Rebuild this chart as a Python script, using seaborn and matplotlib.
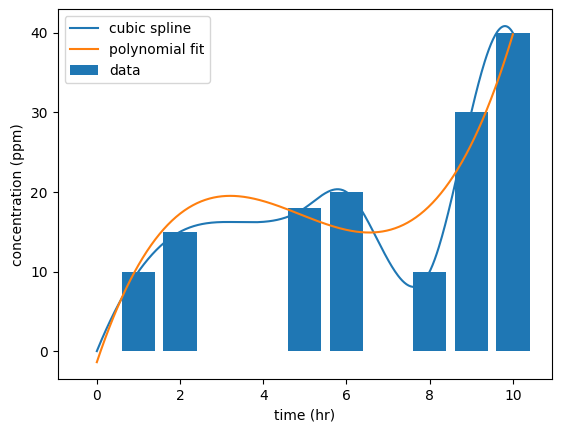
import numpy as np
import pandas as pd
import matplotlib
matplotlib.use("Agg")
import matplotlib.pyplot as plt
import seaborn as sns

time_hr = [0, 1, 2, 5, 6, 8, 9, 10]
conc_ppm = [0, 10, 15, 18, 20, 10, 30, 40]
poly_degree = 3


def not_a_knot_spline(x, y, xs):
    x = np.asarray(x, float)
    y = np.asarray(y, float)
    n = len(x)
    h = np.diff(x)
    A = np.zeros((n, n))
    b = np.zeros(n)
    for i in range(1, n - 1):
        A[i, i - 1] = h[i - 1]
        A[i, i] = 2 * (h[i - 1] + h[i])
        A[i, i + 1] = h[i]
        b[i] = 6 * ((y[i + 1] - y[i]) / h[i] - (y[i] - y[i - 1]) / h[i - 1])
    A[0, 0] = -1 / h[0]
    A[0, 1] = 1 / h[0] + 1 / h[1]
    A[0, 2] = -1 / h[1]
    A[-1, -3] = -1 / h[-2]
    A[-1, -2] = 1 / h[-2] + 1 / h[-1]
    A[-1, -1] = -1 / h[-1]
    M = np.linalg.solve(A, b)
    idx = np.clip(np.searchsorted(x, xs) - 1, 0, n - 2)
    x0, x1 = x[idx], x[idx + 1]
    hh = x1 - x0
    return (M[idx] * (x1 - xs) ** 3 / (6 * hh) + M[idx + 1] * (xs - x0) ** 3 / (6 * hh)
            + (y[idx] / hh - M[idx] * hh / 6) * (x1 - xs)
            + (y[idx + 1] / hh - M[idx + 1] * hh / 6) * (xs - x0))


xs = np.linspace(min(time_hr), max(time_hr), 400)
spline_y = not_a_knot_spline(time_hr, conc_ppm, xs)
poly_y = np.polyval(np.polyfit(time_hr, conc_ppm, poly_degree), xs)

fig = plt.figure(figsize=(5.62, 4.32), dpi=100)
ax = fig.add_axes([0.1027, 0.1227, 0.9822 - 0.1027, 0.9785 - 0.1227])

sns.lineplot(x=xs, y=spline_y, ax=ax, color="C0", label="cubic spline")
sns.lineplot(x=xs, y=poly_y, ax=ax, color="C1", label="polynomial fit")
ax.bar(time_hr, conc_ppm, width=0.8, color="C0", label="data")

ax.set_xlabel("time (hr)")
ax.set_ylabel("concentration (ppm)")
ax.legend(loc="upper left")
fig.savefig("out.png", dpi=100)
